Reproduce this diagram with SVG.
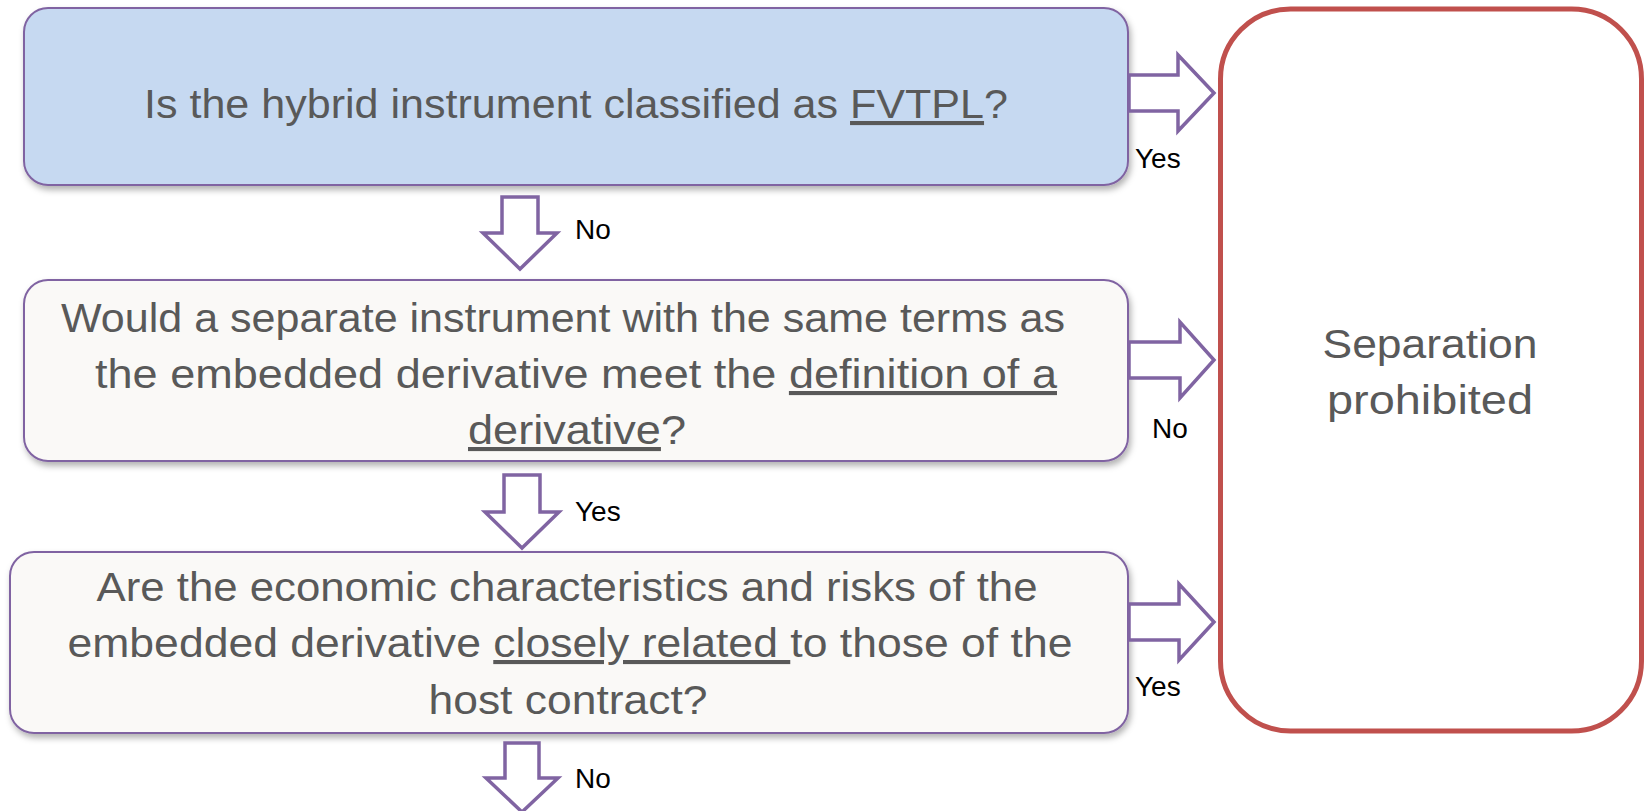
<svg xmlns="http://www.w3.org/2000/svg" width="1649" height="811" viewBox="0 0 1649 811">
  <style>
    .q { stroke: #8064A2; stroke-width: 2; filter: url(#shadow); }
    .q1 { fill: #C6D9F1; }
    .q2 { fill: #FAF9F7; }
    .qt { font-family: "Liberation Sans", Arial, sans-serif; font-size: 41px; fill: #595959; text-anchor: middle; }
    .u { text-decoration: underline; }
    .lbl { font-family: "Liberation Sans", Arial, sans-serif; font-size: 28px; fill: #000000; }
    .arrow { fill: #FFFFFF; stroke: #8064A2; stroke-width: 3.5; stroke-linejoin: miter; }
    .result { fill: #FFFFFF; stroke: #C0504D; stroke-width: 5; }
  </style>
  <defs>
    <filter id="shadow" x="-5%" y="-10%" width="110%" height="130%">
      <feDropShadow dx="2" dy="4" stdDeviation="3" flood-color="#000000" flood-opacity="0.3"/>
    </filter>
  </defs>

  <rect width="1649" height="811" fill="#FFFFFF"/>

  <!-- Question 1 -->
  <g id="q-fvtpl">
    <rect class="q q1" x="24" y="8" width="1104" height="177" rx="24"/>
    <text class="qt" x="576" y="118" textLength="864" lengthAdjust="spacingAndGlyphs">Is the hybrid instrument classified as <tspan class="u">FVTPL</tspan>?</text>
  </g>

  <!-- Question 2 -->
  <g id="q-definition">
    <rect class="q q2" x="24" y="280" width="1104" height="181" rx="24"/>
    <text class="qt" x="563" y="332" textLength="1004" lengthAdjust="spacingAndGlyphs">Would a separate instrument with the same terms as</text>
    <text class="qt" x="576" y="388" textLength="962" lengthAdjust="spacingAndGlyphs">the embedded derivative meet the <tspan class="u">definition of a</tspan></text>
    <text class="qt" x="577" y="444" textLength="218" lengthAdjust="spacingAndGlyphs"><tspan class="u">derivative</tspan>?</text>
  </g>

  <!-- Question 3 -->
  <g id="q-closely-related">
    <rect class="q q2" x="10" y="552" width="1118" height="181" rx="24"/>
    <text class="qt" x="567" y="601" textLength="941" lengthAdjust="spacingAndGlyphs">Are the economic characteristics and risks of the</text>
    <text class="qt" x="570" y="657" textLength="1005" lengthAdjust="spacingAndGlyphs">embedded derivative <tspan class="u">closely related </tspan>to those of the</text>
    <text class="qt" x="568" y="714" textLength="279" lengthAdjust="spacingAndGlyphs">host contract?</text>
  </g>

  <!-- Outcome -->
  <g id="separation-prohibited">
    <rect class="result" x="1220.5" y="9" width="421" height="722" rx="70"/>
    <text class="qt" x="1430" y="358" textLength="215" lengthAdjust="spacingAndGlyphs">Separation</text>
    <text class="qt" x="1430" y="414" textLength="206" lengthAdjust="spacingAndGlyphs">prohibited</text>
  </g>

  <!-- Block-arrow connectors with their labels -->
  <g id="connectors">
    <path class="arrow" d="M502,197 H538 V233 H557 L520,269 L483,233 H502 Z"/>
    <text class="lbl" x="575" y="239">No</text>

    <path class="arrow" d="M504,475 H540 V512 H559 L522,548 L485,512 H504 Z"/>
    <text class="lbl" x="575" y="521">Yes</text>

    <path class="arrow" d="M505,743 H539 V778 H558 L522,812 L486,778 H505 Z"/>
    <text class="lbl" x="575" y="788">No</text>

    <path class="arrow" d="M1129,75 H1178 V55 L1214,93 L1178,131 V111 H1129 Z"/>
    <text class="lbl" x="1135" y="168">Yes</text>

    <path class="arrow" d="M1129,342 H1180 V322 L1214,360 L1180,398 V378 H1129 Z"/>
    <text class="lbl" x="1152" y="438">No</text>

    <path class="arrow" d="M1129,604 H1179 V584 L1214,622 L1179,660 V640 H1129 Z"/>
    <text class="lbl" x="1135" y="696">Yes</text>
  </g>
</svg>
